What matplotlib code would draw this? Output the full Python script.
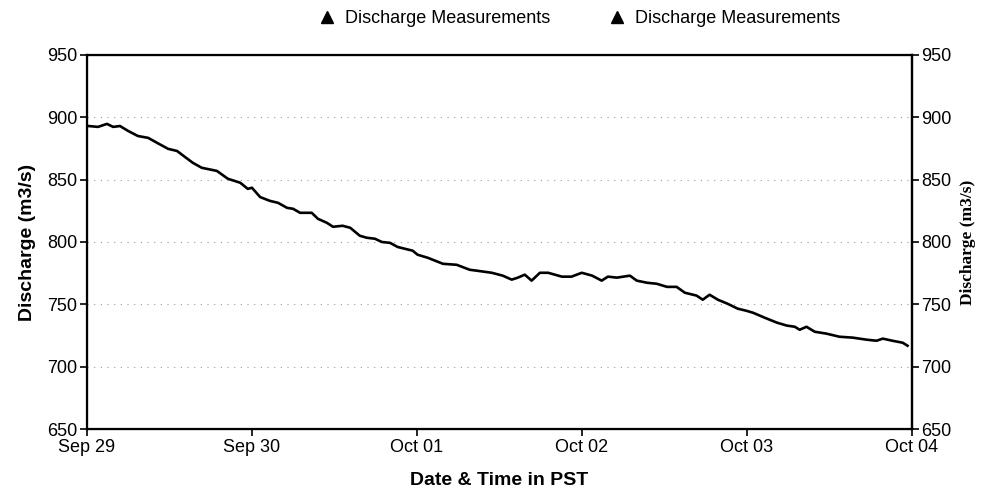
import numpy as np
import matplotlib
matplotlib.use("Agg")
from matplotlib import pyplot as plt
import matplotlib.dates as mdates
from matplotlib.lines import Line2D

# hours since Sep 29 00:00 PST and discharge (m3/s)
hours = [0, 1.6, 2.9, 3.8, 4.8, 6.0, 7.4, 8.9, 10.2, 11.8, 13.1, 14.3, 15.4, 16.7,
         18.9, 20.5, 22.3, 23.4, 24.0, 25.2, 26.6, 27.8, 29.1, 30.0, 31.0, 32.7,
         33.6, 34.9, 35.8, 37.2, 38.3, 39.7, 40.7, 41.9, 42.9, 44.1, 45.2, 46.3,
         47.4, 48.1, 49.6, 51.8, 53.8, 55.7, 56.7, 58.9, 60.5, 61.8, 62.7, 63.7,
         64.7, 65.9, 67.1, 69.1, 70.5, 72.0, 73.5, 74.9, 75.8, 77.1, 79.0, 80.0,
         81.5, 82.9, 84.4, 85.8, 87.0, 88.7, 89.6, 90.6, 91.8, 93.2, 94.7, 95.9,
         96.9, 98.6, 100.4, 101.8, 103.0, 103.7, 104.7, 105.9, 107.6, 109.5,
         111.4, 113.5, 114.9, 115.8, 117.2, 118.7, 119.4]
discharge = [893.1, 892.3, 894.7, 892.3, 893.0, 889.0, 885.0, 883.5, 879.5, 874.7,
             873.0, 868.0, 863.5, 859.5, 857.0, 850.7, 847.5, 842.6, 843.5, 836.0,
             833.0, 831.4, 827.4, 826.6, 823.4, 823.4, 818.6, 815.4, 812.2, 813.0,
             811.4, 805.0, 803.4, 802.6, 800.0, 799.3, 796.0, 794.5, 793.0, 789.8,
             787.3, 782.5, 781.7, 777.7, 777.0, 775.3, 773.0, 769.8, 771.4, 773.8,
             769.0, 775.3, 775.3, 772.2, 772.2, 775.3, 773.0, 769.0, 772.2, 771.4,
             773.0, 769.0, 767.3, 766.5, 764.0, 764.0, 759.3, 757.0, 753.7, 757.7,
             753.7, 750.5, 746.5, 744.9, 743.3, 739.3, 735.3, 733.0, 732.0, 729.6,
             732.0, 728.0, 726.5, 724.0, 723.3, 721.6, 720.8, 722.5, 720.8, 719.2,
             716.8]
y_ticks = [650, 700, 750, 800, 850, 900, 950]
start = np.datetime64("2010-09-29T00:00")
end = np.datetime64("2010-10-04T00:00")

times = start + np.array([int(round(h * 60)) for h in hours]).astype("timedelta64[m]")

plt.rcParams["font.family"] = ["Liberation Sans", "DejaVu Sans"]

fig = plt.figure(figsize=(9.92, 4.95), dpi=100)
ax = fig.add_axes([0.0877, 0.1333, 0.8313, 0.7557])

ax.plot(times, discharge, color="black", lw=1.9)

ax.set_xlim(start, end)
ax.set_ylim(650, 950)
ax.set_yticks(y_ticks)
ax.xaxis.set_major_locator(mdates.DayLocator())
ax.xaxis.set_major_formatter(mdates.DateFormatter("%b %d"))

for v in y_ticks[1:-1]:
    ax.axhline(v, color="#999999", lw=0.8, ls=(0, (1, 5)), zorder=0)

for s in ax.spines.values():
    s.set_color("black")
    s.set_linewidth(1.6)

ax.tick_params(axis="both", direction="out", length=5, width=1.2, labelsize=13, pad=2)
ax.set_ylabel("Discharge (m3/s)", fontsize=14, fontweight="bold", labelpad=8)
ax.set_xlabel("Date & Time in PST", fontsize=14, fontweight="bold", labelpad=12)

ax2 = ax.twinx()
ax2.set_ylim(650, 950)
ax2.set_yticks(y_ticks)
ax2.tick_params(axis="y", direction="out", length=5, width=1.2, labelsize=13, pad=2)
ax2.spines["right"].set_linewidth(1.6)
ax2.set_ylabel("Discharge (m3/s)", fontsize=12.5, fontweight="bold",
               family=["Liberation Serif", "DejaVu Serif"], rotation=90, labelpad=6)

handles = [Line2D([], [], color="black", marker="^", ls="none", markersize=8),
           Line2D([], [], color="black", marker="^", ls="none", markersize=8)]
fig.legend(handles, ["Discharge Measurements", "Discharge Measurements"], ncol=2,
           loc="center", bbox_to_anchor=(0.584, 0.962), frameon=False, fontsize=13,
           handletextpad=0.5, columnspacing=3.2, handlelength=1.0)

plt.savefig("out.png", dpi=100)
